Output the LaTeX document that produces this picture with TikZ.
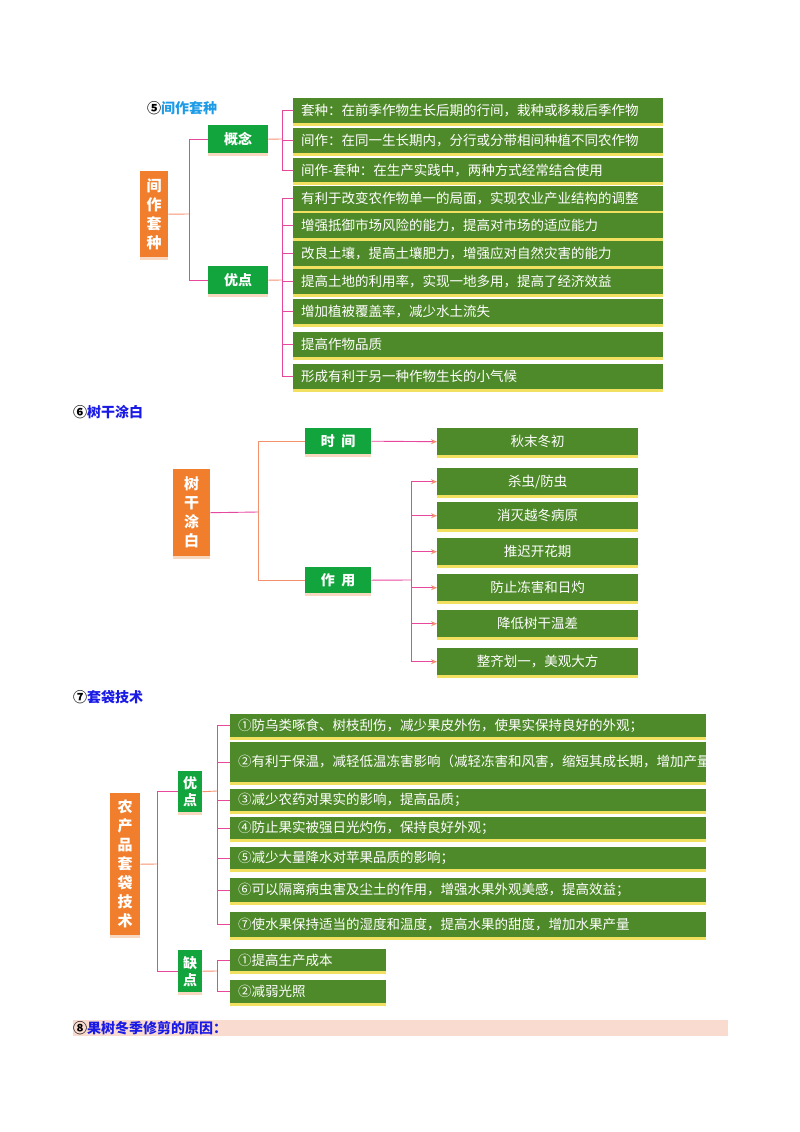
\documentclass[tikz,border=0pt]{standalone}
\usepackage{fontspec}
\setmainfont{Noto Sans CJK SC}
\usetikzlibrary{arrows.meta}
\definecolor{olive}{HTML}{4F8A2A}
\definecolor{yel}{HTML}{F2E060}
\definecolor{lgreen}{HTML}{12A53E}
\definecolor{orng}{HTML}{F07E2C}
\definecolor{pnk}{HTML}{E8479E}
\definecolor{salm}{HTML}{F4916D}
\definecolor{tblue}{HTML}{1A1AE6}
\definecolor{tcyan}{HTML}{1E9BE6}
\definecolor{band}{HTML}{FADBD0}
\definecolor{shad}{HTML}{F8D8C0}
\tikzset{
  gbox/.style={fill=olive,text=white,inner xsep=8pt,inner ysep=1pt,font=\fontsize{13.5}{17}\selectfont,
     preaction={fill=yel,transform canvas={yshift=-2.5pt}}},
  lbox/.style={fill=lgreen,text=white,font=\bfseries\fontsize{14}{17}\selectfont,inner sep=0pt,
     preaction={fill=shad,transform canvas={yshift=-3pt}}},
  obox/.style={fill=orng,text=white,font=\bfseries\fontsize{15}{19}\selectfont,inner sep=0pt,align=center,
     preaction={fill=shad,transform canvas={yshift=-3pt}}},
  con/.style={draw=pnk,line width=0.9pt},
  scon/.style={draw=salm,line width=0.9pt},
  arr/.style={draw=pnk,line width=0.9pt,-{Stealth[length=6pt,width=5pt,color=salm]}},
  ttl/.style={font=\bfseries\fontsize{14}{17}\selectfont,anchor=west,inner sep=0pt},
}
% name, x, y(top), width, height, text
\newcommand\gbl[6]{\node[gbox,anchor=north west,minimum height=#5pt,text width={\dimexpr #4pt-16pt\relax},align=left] (#1) at (#2,#3) {#6};}
\newcommand\gbc[6]{\node[gbox,anchor=north west,minimum height=#5pt,text width={\dimexpr #4pt-16pt\relax},align=center] (#1) at (#2,#3) {#6};}
\begin{document}
\begin{tikzpicture}[x=1pt,y=-1pt]
\useasboundingbox (0,0) rectangle (800,1132);
% ===== Section 5 =====
\node[ttl] (t5) at (147,108) {\textcolor{black}{⑤}\textcolor{tcyan}{间作套种}};
\node[obox,anchor=north west,minimum width=28pt,minimum height=86pt] (r5) at (140,171) {间\\作\\套\\种};
\node[lbox,anchor=north west,minimum width=60pt,minimum height=28pt] (g51) at (208,125) {概念};
\node[lbox,anchor=north west,minimum width=60pt,minimum height=28pt] (g52) at (208,266) {优点};
\gbl{a1}{293}{98}{370}{25}{套种：在前季作物生长后期的行间，栽种或移栽后季作物}
\gbl{a2}{293}{128}{370}{25}{间作：在同一生长期内，分行或分带相间种植不同农作物}
\gbl{a3}{293}{158}{370}{24}{间作-套种：在生产实践中，两种方式经常结合使用}
\gbl{a4}{293}{186}{370}{25}{有利于改变农作物单一的局面，实现农业产业结构的调整}
\gbl{a5}{293}{213}{370}{25}{增强抵御市场风险的能力，提高对市场的适应能力}
\gbl{a6}{293}{241}{370}{25}{改良土壤，提高土壤肥力，增强应对自然灾害的能力}
\gbl{a7}{293}{269}{370}{25}{提高土地的利用率，实现一地多用，提高了经济效益}
\gbl{a8}{293}{299}{370}{25}{增加植被覆盖率，减少水土流失}
\gbl{a9}{293}{332}{370}{25}{提高作物品质}
\gbl{a10}{293}{364}{370}{25}{形成有利于另一种作物生长的小气候}
\coordinate (j5) at (189,214);
\draw[scon] (r5.east) -- (j5);
\draw[con] (j5) |- (g51.west);
\draw[con] (j5) |- (g52.west);
\coordinate (k51) at (282,139);
\coordinate (k52) at (282,280);
\draw[scon] (g51.east) -- (k51);
\draw[scon] (g52.east) -- (k52);
\foreach \n in {a1,a2,a3}{\draw[con] (k51) |- (\n.west);}
\foreach \n in {a4,a5,a6,a7,a8,a9,a10}{\draw[con] (k52) |- (\n.west);}
% ===== Section 6 =====
\node[ttl] (t6) at (73,412) {\textcolor{black}{⑥}\textcolor{tblue}{树干涂白}};
\node[obox,anchor=north west,minimum width=37pt,minimum height=87pt] (r6) at (173,469) {树\\干\\涂\\白};
\node[lbox,anchor=north west,minimum width=66pt,minimum height=26pt] (g61) at (305,428) {时\ \ 间};
\node[lbox,anchor=north west,minimum width=66pt,minimum height=26pt] (g62) at (305,567) {作\ \ 用};
\gbc{b1}{437}{428}{201}{27}{秋末冬初}
\gbc{b2}{437}{468}{201}{27}{杀虫/防虫}
\gbc{b3}{437}{502}{201}{27}{消灭越冬病原}
\gbc{b4}{437}{538}{201}{27}{推迟开花期}
\gbc{b5}{437}{574}{201}{27}{防止冻害和日灼}
\gbc{b6}{437}{610}{201}{27}{降低树干温差}
\gbc{b7}{437}{648}{201}{27}{整齐划一，美观大方}
\coordinate (j6) at (258,512);
\draw[con] (r6.east) -- (j6);
\draw[scon] (j6) |- (g61.west);
\draw[scon] (j6) |- (g62.west);
\draw[arr] (g61.east) -- (b1.west);
\coordinate (k6) at (411,580);
\draw[con] (g62.east) -- (k6);
\foreach \n in {b2,b3,b4,b5,b6,b7}{\draw[arr] (k6) |- (\n.west);}
% ===== Section 7 =====
\node[ttl] (t7) at (73,697) {\textcolor{black}{⑦}\textcolor{tblue}{套袋技术}};
\node[obox,anchor=north west,minimum width=30pt,minimum height=142pt] (r7) at (110,793) {农\\产\\品\\套\\袋\\技\\术};
\node[lbox,anchor=north west,minimum width=24pt,minimum height=41pt,align=center] (g71) at (178,771) {优\\点};
\node[lbox,anchor=north west,minimum width=24pt,minimum height=42pt,align=center] (g72) at (178,950) {缺\\点};
\gbl{c1}{230}{714}{476}{23}{①防乌类啄食、树枝刮伤，减少果皮外伤，使果实保持良好的外观；}
\gbl{c2}{230}{742}{476}{40}{②有利于保温，减轻低温冻害影响（减轻冻害和风害，缩短其成长期，增加产量）；}
\gbl{c3}{230}{789}{476}{22}{③减少农药对果实的影响，提高品质；}
\gbl{c4}{230}{817}{476}{22}{④防止果实被强日光灼伤，保持良好外观；}
\gbl{c5}{230}{847}{476}{22}{⑤减少大量降水对苹果品质的影响；}
\gbl{c6}{230}{878}{476}{24}{⑥可以隔离病虫害及尘土的作用，增强水果外观美感，提高效益；}
\gbl{c7}{230}{912}{476}{25}{⑦使水果保持适当的湿度和温度，提高水果的甜度，增加水果产量}
\gbl{d1}{230}{949}{156}{22}{①提高生产成本}
\gbl{d2}{230}{980}{156}{23}{②减弱光照}
\coordinate (j7) at (157,864);
\draw[scon] (r7.east) -- (j7);
\draw[con] (j7) |- (g71.west);
\draw[con] (j7) |- (g72.west);
\coordinate (k71) at (217,791);
\coordinate (k72) at (217,971);
\draw[scon] (g71.east) -- (k71);
\draw[scon] (g72.east) -- (k72);
\foreach \n in {c1,c2,c3,c4,c5,c6,c7}{\draw[con] (k71) |- (\n.west);}
\foreach \n in {d1,d2}{\draw[con] (k72) |- (\n.west);}
% ===== Section 8 =====
\node[fill=band,anchor=north west,minimum width=655pt,minimum height=16pt,inner sep=0pt] (bd) at (73,1020) {};
\node[ttl] (t8) at (73,1028) {\textcolor{black}{⑧}\textcolor{tblue}{果树冬季修剪的原因：}};
\end{tikzpicture}
\end{document}
